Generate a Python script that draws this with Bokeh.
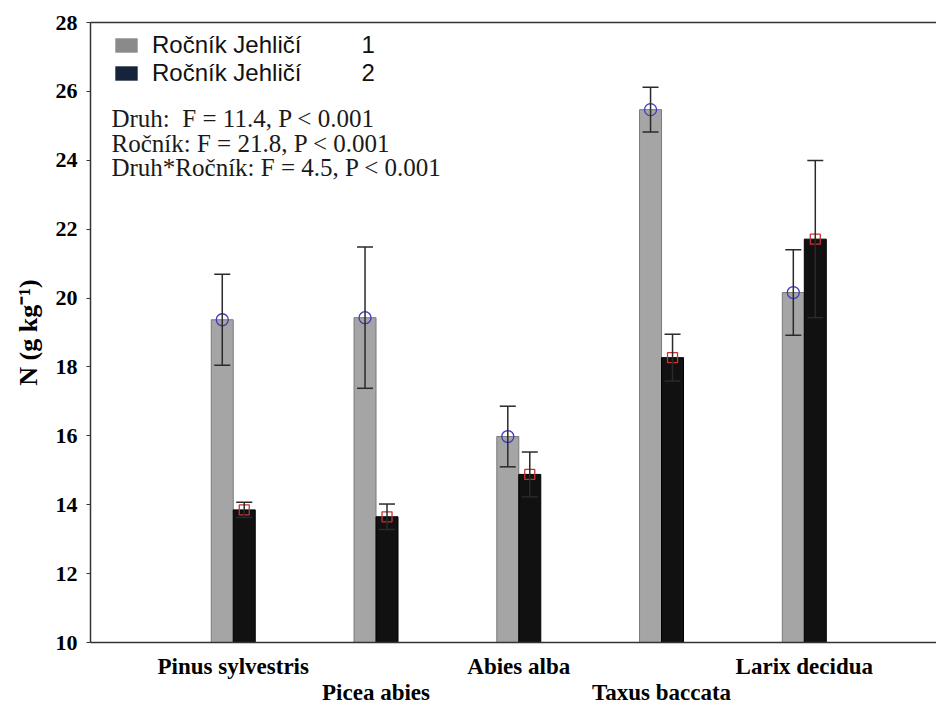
from bokeh.plotting import figure
from bokeh.models import (Range1d, LinearAxis, FixedTicker, Whisker, TeeHead,
                          ColumnDataSource, Legend, LegendItem, Label)
from bokeh.embed import file_html
from bokeh.resources import INLINE

# Nitrogen content of needles by species and needle age class
species = ["Pinus sylvestris", "Picea abies", "Abies alba", "Taxus baccata", "Larix decidua"]
mean_age1 = [19.37, 19.43, 15.98, 25.47, 20.16]
err_age1 = [1.32, 2.05, 0.88, 0.65, 1.24]
mean_age2 = [13.85, 13.65, 14.88, 18.27, 21.71]
err_age2 = [0.22, 0.37, 0.65, 0.68, 2.28]
y_ticks = [10, 12, 14, 16, 18, 20, 22, 24, 26, 28]
legend_labels = ["Ročník Jehličí", "Ročník Jehličí"]
legend_codes = ["1", "2"]
stats_lines = ["Druh:\u00a0 F = 11.4, P < 0.001",
               "Ročník: F = 21.8, P < 0.001",
               "Druh*Ročník: F = 4.5, P < 0.001"]

SERIF = "Liberation Serif"
SANS = "Liberation Sans"
AXIS_COLOR = "#333333"

idx = list(range(len(species)))
bar_w = 0.154

p = figure(width=936, height=707,
           x_range=Range1d(-1.0, 4.926), y_range=Range1d(10, 28),
           output_backend="svg", toolbar_location=None,
           min_border_left=90, min_border_right=0,
           min_border_top=22, min_border_bottom=65)
p.outline_line_color = None
p.xgrid.visible = False
p.ygrid.visible = False
p.background_fill_color = "white"
p.border_fill_color = "white"

# left axis
yax = p.yaxis[0]
yax.ticker = FixedTicker(ticks=y_ticks)
yax.axis_line_color = AXIS_COLOR
yax.axis_line_width = 1.5
yax.major_tick_line_color = AXIS_COLOR
yax.major_tick_out = 4
yax.major_tick_in = 0
yax.minor_tick_line_color = None
yax.major_label_text_font = SERIF
yax.major_label_text_font_style = "bold"
yax.major_label_text_font_size = "22px"
yax.major_label_text_color = "black"
yax.major_label_standoff = 9
yax.axis_label = "N (g kg\u207b\u00b9)"
yax.axis_label_text_font = SERIF
yax.axis_label_text_font_style = "bold"
yax.axis_label_text_font_size = "26px"
yax.axis_label_text_color = "black"
yax.axis_label_standoff = 10

# bottom axis: species names on two staggered rows
xax = p.xaxis[0]
xax.ticker = FixedTicker(ticks=idx)
xax.major_label_overrides = {i: (species[i] if i % 2 == 0 else "\n" + species[i])
                             for i in idx}
xax.axis_line_color = AXIS_COLOR
xax.axis_line_width = 1.5
xax.major_tick_line_color = None
xax.minor_tick_line_color = None
xax.major_label_text_font = SERIF
xax.major_label_text_font_style = "bold"
xax.major_label_text_font_size = "23px"
xax.major_label_text_color = "black"
xax.major_label_text_line_height = 1.05
xax.major_label_standoff = 5

# top frame line
top = LinearAxis(ticker=FixedTicker(ticks=[]))
top.axis_line_color = AXIS_COLOR
top.axis_line_width = 1.5
top.major_tick_line_color = None
top.minor_tick_line_color = None
p.add_layout(top, "above")

src1 = ColumnDataSource(dict(
    x=[i - bar_w / 2 for i in idx], top=mean_age1,
    upper=[m + e for m, e in zip(mean_age1, err_age1)],
    lower=[m - e for m, e in zip(mean_age1, err_age1)]))
src2 = ColumnDataSource(dict(
    x=[i + bar_w / 2 for i in idx], top=mean_age2,
    upper=[m + e for m, e in zip(mean_age2, err_age2)],
    lower=[m - e for m, e in zip(mean_age2, err_age2)]))

p.vbar(x="x", top="top", bottom=10, width=bar_w, source=src1,
       fill_color="#a5a5a5", line_color="#7a7a7a", line_width=1)
p.vbar(x="x", top="top", bottom=10, width=bar_w, source=src2,
       fill_color="#111111", line_color="#000000", line_width=1)

for src in (src1, src2):
    w = Whisker(base="x", upper="upper", lower="lower", source=src,
                dimension="height", line_color="#2a2a2a", line_width=1.5,
                upper_head=TeeHead(size=16, line_color="#2a2a2a", line_width=1.5),
                lower_head=TeeHead(size=16, line_color="#2a2a2a", line_width=1.5),
                level="overlay")
    p.add_layout(w)

p.scatter("x", "top", source=src1, marker="circle", size=12,
          fill_color=None, line_color="#3a3ac0", line_width=1.3, level="overlay")
p.scatter("x", "top", source=src2, marker="square", size=10,
          fill_color=None, line_color="#c83232", line_width=1.3, level="overlay")

# legend swatches: flat (zero-height) bars that only carry the swatch styling
leg_src1 = ColumnDataSource(dict(x=src1.data["x"][:1], top=[10]))
leg_src2 = ColumnDataSource(dict(x=src2.data["x"][:1], top=[10]))
leg1 = p.vbar(x="x", top="top", bottom=10, width=bar_w * 0.5, source=leg_src1,
              fill_color="#8a8a8a", line_color="#505050", line_alpha=0.0)
leg2 = p.vbar(x="x", top="top", bottom=10, width=bar_w * 0.5, source=leg_src2,
              fill_color="#15243b", line_color="#0a0a0a", line_alpha=0.0)
gap = "\u00a0" * 9
legend = Legend(items=[
    LegendItem(label=legend_labels[0] + gap + legend_codes[0], renderers=[leg1]),
    LegendItem(label=legend_labels[1] + gap + legend_codes[1], renderers=[leg2]),
], location=(22, 555), glyph_width=28, glyph_height=18, label_standoff=12,
    label_text_font=SANS, label_text_font_size="24px", label_text_color="#111111",
    padding=0, margin=0, spacing=0, border_line_color=None,
    background_fill_alpha=0)
p.add_layout(legend, "center")

# ANOVA summary
for line, yv in zip(stats_lines, [25.22, 24.50, 23.79]):
    p.add_layout(Label(x=-0.853, y=yv, text=line, text_font=SERIF,
                       text_font_size="25px", text_color="#1a1a1a",
                       text_baseline="middle", text_align="left"))

open("out.html", "w").write(file_html(p, INLINE))
